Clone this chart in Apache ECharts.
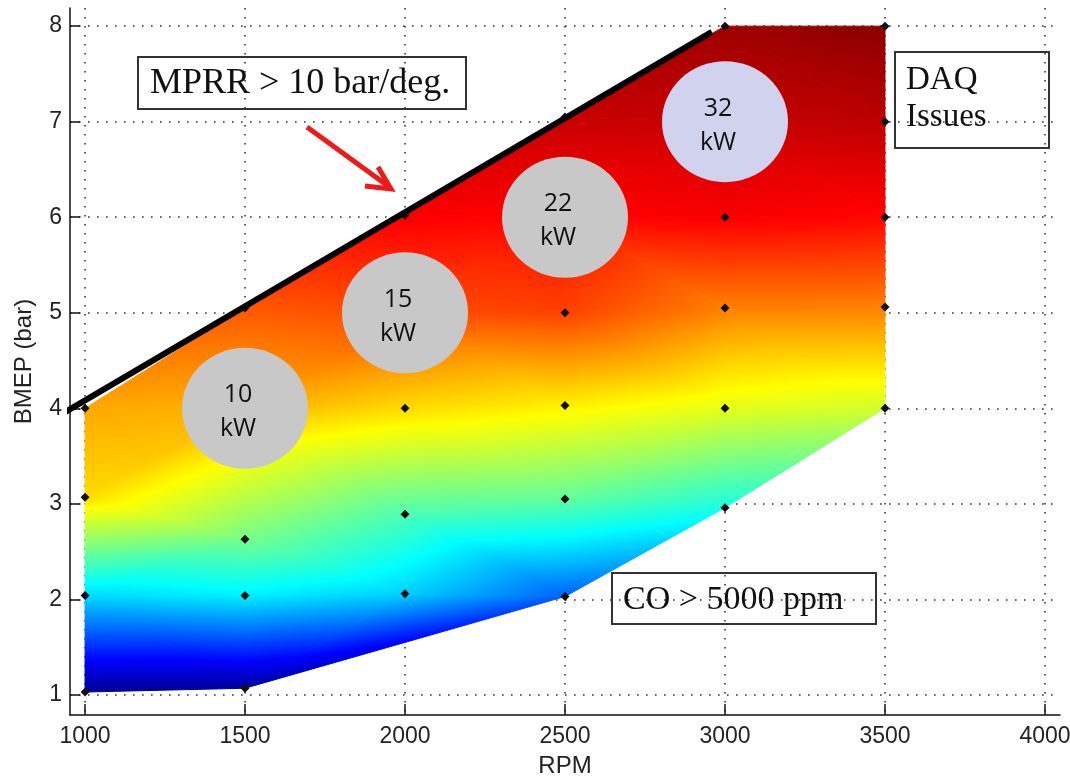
<!DOCTYPE html>
<html>
<head>
<meta charset="utf-8">
<script src="https://cdn.jsdelivr.net/npm/echarts@6/dist/echarts.min.js"></script>
<style>
html, body { margin: 0; background: #fff; }
#chart { width: 1070px; height: 776px; }
</style>
</head>
<body>
<div id="chart"></div>
<script>
// measured points: for each RPM column, the BMEP levels and the colour index (0..1 on jet)
const rpmCols = [1000, 1500, 2000, 2500, 3000, 3500];
const bmepCols = [
  [1.03, 2.04, 3.07, 4.0],
  [1.07, 2.04, 2.63, 4.0, 5.05],
  [2.06, 2.89, 4.0, 5.0, 6.02],
  [2.03, 3.05, 4.03, 5.0, 6.0, 7.05],
  [2.96, 4.0, 5.05, 6.0, 7.0, 8.0],
  [4.0, 5.06, 6.0, 7.0, 8.0]
];
const colorCols = [
  [0.02, 0.34, 0.66, 0.71],
  [0.03, 0.36, 0.49, 0.70, 0.79],
  [0.33, 0.45, 0.66, 0.80, 0.88],
  [0.22, 0.47, 0.64, 0.81, 0.87, 0.93],
  [0.40, 0.60, 0.75, 0.88, 0.93, 0.97],
  [0.58, 0.75, 0.87, 0.94, 0.99]
];
// power bubbles
const powerRpm = [1500, 2000, 2500, 3000];
const powerBmep = [4, 5, 6, 7];
const powerKw = ['10', '15', '22', '32'];
// MPRR limit line
const limitRpm = [922, 2959];
const limitBmep = [3.93, 7.94];
// ticks
const xTicks = [1000, 1500, 2000, 2500, 3000, 3500, 4000];
const yTicks = [1, 2, 3, 4, 5, 6, 7, 8];

const circleFill = ['#c8c8c8', '#c8c8c8', '#c8c8c8', '#d0d2ee'];

// jet colormap
function jet(v) {
  const c = t => Math.round(255 * Math.max(0, Math.min(1, 1.5 - Math.abs(t))));
  return 'rgb(' + c(4 * v - 3) + ',' + c(4 * v - 2) + ',' + c(4 * v - 1) + ')';
}

// build triangles: zipper between neighbouring columns (shorter diagonal) + fill hull notches
const pt = (c, k) => [rpmCols[c], bmepCols[c][k], colorCols[c][k]];
const tris = [];
for (let c = 0; c < rpmCols.length - 1; c++) {
  const A = bmepCols[c], B = bmepCols[c + 1];
  let i = 0, j = 0;
  while (i < A.length - 1 || j < B.length - 1) {
    let advA;
    if (j === B.length - 1) advA = true;
    else if (i === A.length - 1) advA = false;
    else advA = Math.abs(A[i + 1] - B[j]) <= Math.abs(B[j + 1] - A[i]);
    if (advA) {
      tris.push(pt(c, i).concat(pt(c, i + 1), pt(c + 1, j))); i++;
    } else {
      tris.push(pt(c, i).concat(pt(c + 1, j), pt(c + 1, j + 1))); j++;
    }
  }
}
function fillHull(points, lower) {
  const cross = (o, a, b) => (a[0] - o[0]) * (b[1] - o[1]) - (a[1] - o[1]) * (b[0] - o[0]);
  const st = [];
  points.forEach(p => {
    while (st.length >= 2) {
      const cr = cross(st[st.length - 2], st[st.length - 1], p);
      if (lower ? cr <= 0 : cr >= 0) {
        const m = st.pop();
        tris.push(st[st.length - 1].concat(m, p));
      } else break;
    }
    st.push(p);
  });
}
fillHull(rpmCols.map((r, c) => pt(c, 0)), true);
fillHull(rpmCols.map((r, c) => pt(c, bmepCols[c].length - 1)), false);

// linear gradient reproducing the linear interpolation of the colour index over a triangle
function triFill(p, v) {
  const d1x = p[1][0] - p[0][0], d1y = p[1][1] - p[0][1];
  const d2x = p[2][0] - p[0][0], d2y = p[2][1] - p[0][1];
  const dv1 = v[1] - v[0], dv2 = v[2] - v[0];
  const det = d1x * d2y - d1y * d2x;
  const vmin = Math.min(...v), vmax = Math.max(...v);
  if (Math.abs(det) < 1e-9 || vmax - vmin < 1e-6) return jet((vmin + vmax) / 2);
  const gx = (dv1 * d2y - d1y * dv2) / det;
  const gy = (d1x * dv2 - dv1 * d2x) / det;
  const g2 = gx * gx + gy * gy;
  const k = v.indexOf(vmin);
  const span = vmax - vmin;
  const sx = p[k][0], sy = p[k][1];
  const ex = sx + gx * span / g2, ey = sy + gy * span / g2;
  const stops = [{ offset: 0, color: jet(vmin) }];
  [0.125, 0.375, 0.625, 0.875].forEach(t => {
    if (t > vmin && t < vmax) stops.push({ offset: (t - vmin) / span, color: jet(t) });
  });
  stops.push({ offset: 1, color: jet(vmax) });
  return new echarts.graphic.LinearGradient(sx, sy, ex, ey, stops, true);
}

const dots = [];
rpmCols.forEach((r, c) => bmepCols[c].forEach(b => dots.push([r, b])));

const chart = echarts.init(document.getElementById('chart'));
const axisFont = { fontFamily: '"Liberation Sans", Arial, sans-serif', fontSize: 23, color: '#222' };
const gridLine = { show: true, lineStyle: { color: '#333', width: 1.6, type: [1.6, 7.4] } };

const option = {
  animation: false,
  grid: { left: 70, right: 10, top: 8, bottom: 61, outerBoundsMode: 'none' },
  xAxis: {
    type: 'value', min: 953, max: 4047,
    name: 'RPM', nameLocation: 'middle', nameGap: 39,
    nameTextStyle: Object.assign({}, axisFont, { fontSize: 24 }),
    axisLine: { onZero: false, lineStyle: { color: '#111', width: 1.5 } },
    axisTick: { inside: true, length: 11, customValues: xTicks, lineStyle: { color: '#111', width: 1.5 } },
    axisLabel: Object.assign({ customValues: xTicks, margin: 10, formatter: v => String(v) }, axisFont),
    splitLine: gridLine
  },
  yAxis: {
    type: 'value', min: 0.79, max: 8.19,
    name: 'BMEP (bar)', nameLocation: 'middle', nameGap: 34,
    nameTextStyle: Object.assign({}, axisFont, { fontSize: 24 }),
    axisLine: { onZero: false, lineStyle: { color: '#111', width: 1.5 } },
    axisTick: { inside: true, length: 10, customValues: yTicks, lineStyle: { color: '#111', width: 1.5 } },
    axisLabel: Object.assign({ customValues: yTicks, margin: 8, formatter: v => String(v) }, axisFont),
    splitLine: gridLine
  },
  series: [
    {
      type: 'custom',
      data: tris,
      encode: { x: [0, 3, 6], y: [1, 4, 7] },
      z: 1,
      silent: true,
      renderItem: function (params, api) {
        const p = [], v = [];
        for (let k = 0; k < 3; k++) {
          p.push(api.coord([api.value(k * 3), api.value(k * 3 + 1)]));
          v.push(api.value(k * 3 + 2));
        }
        const fill = triFill(p, v);
        return { type: 'polygon', shape: { points: p }, style: { fill: fill, stroke: fill, lineWidth: 1 } };
      }
    },
    {
      type: 'scatter',
      data: dots,
      symbol: 'diamond',
      symbolSize: 9,
      itemStyle: { color: '#111', opacity: 1 },
      z: 3,
      silent: true
    },
    {
      type: 'scatter',
      data: powerRpm.map((r, i) => ({ value: [r, powerBmep[i]], name: powerKw[i], itemStyle: { color: circleFill[i] } })),
      symbol: 'circle',
      symbolSize: [126, 121],
      itemStyle: { opacity: 1 },
      z: 4,
      silent: true,
      label: {
        show: true, position: 'inside', offset: [-7, 4],
        formatter: p => p.name + '\nkW',
        fontFamily: '"Open Sans", "DejaVu Sans", sans-serif', fontSize: 25, lineHeight: 34, color: '#111'
      }
    },
    {
      type: 'line',
      data: limitRpm.map((r, i) => [r, limitBmep[i]]),
      symbol: 'none',
      clip: false,
      z: 5,
      silent: true,
      lineStyle: { color: '#000', width: 6, cap: 'butt' }
    }
  ],
  graphic: [
    {
      type: 'group', children: [
        { type: 'rect', shape: { x: 138, y: 57, width: 328, height: 52 }, style: { fill: '#fff', stroke: '#333', lineWidth: 2 } },
        { type: 'text', x: 150, y: 84, style: { text: 'MPRR > 10 bar/deg.', font: '36px "Liberation Serif", serif', fill: '#111', verticalAlign: 'middle' } }
      ]
    },
    {
      type: 'group', children: [
        { type: 'rect', shape: { x: 895, y: 52, width: 154, height: 96 }, style: { fill: '#fff', stroke: '#333', lineWidth: 2 } },
        { type: 'text', x: 906, y: 99, style: { text: 'DAQ\nIssues', font: '33px "Liberation Serif", serif', lineHeight: 37, fill: '#111', verticalAlign: 'middle' } }
      ]
    },
    {
      type: 'group', children: [
        { type: 'rect', shape: { x: 612, y: 573, width: 264, height: 51 }, style: { fill: '#fff', stroke: '#333', lineWidth: 2 } },
        { type: 'text', x: 623, y: 600, style: { text: 'CO > 5000 ppm', font: '34px "Liberation Serif", serif', fill: '#111', verticalAlign: 'middle' } }
      ]
    },
    { type: 'polyline', shape: { points: [[307, 127], [388, 186]] }, style: { stroke: '#f01818', lineWidth: 5 } },
    { type: 'polyline', shape: { points: [[378, 167], [391, 189], [365, 186]] }, style: { stroke: '#f01818', lineWidth: 5, fill: null } }
  ]
};
chart.setOption(option);
</script>
</body>
</html>
